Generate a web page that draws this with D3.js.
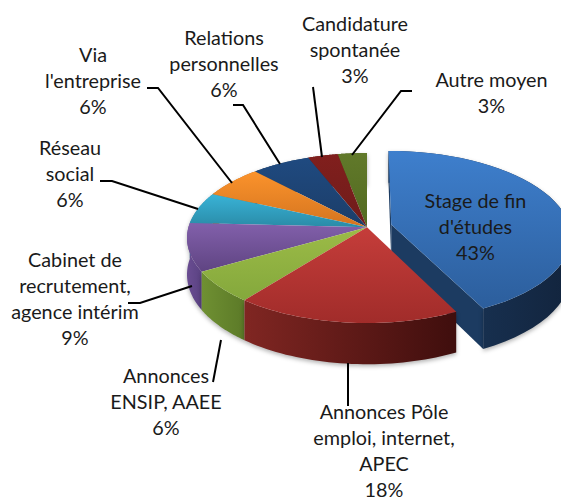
<!DOCTYPE html>
<html>
<head>
<meta charset="utf-8">
<script src="https://cdn.jsdelivr.net/npm/d3@7"></script>
<style>
  body { margin: 0; background: #fff; }
  svg { display: block; }
  text { font-family: Lato, sans-serif; font-size: 19.8px; fill: #1a1a1a; text-anchor: middle; }
</style>
</head>
<body>
<script>
// Chart values: shares, they round to the printed labels
const categories = ['Stage de fin d\'études', 'Annonces Pôle emploi, internet, APEC', 'Annonces ENSIP, AAEE',
  'Cabinet de recrutement, agence intérim', 'Réseau social', 'Via l\'entreprise',
  'Relations personnelles', 'Candidature spontanée', 'Autre moyen'];
const shares = [42.7, 17.9, 6.1, 9.1, 6.0, 6.2, 6.0, 3.05, 2.95];
const exploded = [0.14, 0, 0, 0, 0, 0, 0, 0, 0];

// Colours: top face light/dark, side face left/right
const topColors = [['#3e7fcd', '#2c5e9c'], ['#c53d3a', '#a12c2a'], ['#9cbb47', '#84a83c'], ['#8260ab', '#5f4482'],
  ['#39b3d7', '#2a8ba7'], ['#fb932c', '#d4741f'], ['#1f4a80', '#1c3d68'], ['#811f1d', '#6e1c1a'], ['#61792a', '#526a20']];
const sideColors = [['#1c3b61', '#12243d'], ['#802622', '#3f0e0d'], ['#6f9032', '#5c7a28'], ['#6a4d92', '#5a4282'],
  ['#2a8ba7', '#2a8ba7'], ['#c06a1c', '#c06a1c'], ['#173a60', '#173a60'], ['#5f1514', '#5f1514'], ['#4a5f1c', '#4a5f1c']];

// Label text lines and their layout, plus the leader line elbows
const labelLines = [['Stage de fin', 'd\'études', '43%'], ['Annonces Pôle', 'emploi, internet,', 'APEC', '18%'], ['Annonces', 'ENSIP, AAEE', '6%'],
  ['Cabinet de', 'recrutement,', 'agence intérim', '9%'], ['Réseau', 'social', '6%'], ['Via', 'l\'entreprise', '6%'],
  ['Relations', 'personnelles', '6%'], ['Candidature', 'spontanée', '3%'], ['Autre moyen', '3%']];
const labelPos = [[475.5, 208], [384, 418.5], [166, 383], [75, 267], [70, 155], [93, 62], [224, 45], [355, 31], [491.5, 87]];
const lineStep = 26;
const leaders = [null,
  [[348, 363], [348, 406]],
  [[221, 340], [213, 382]],
  [[192, 286], [140, 303], [128, 303]],
  [[198, 209], [112, 181], [100, 181]],
  [[232, 183], [158, 88], [147, 88]],
  [[280, 164], [243, 105], [233, 105]],
  [[322, 157], [313, 87]],
  [[352, 155], [401, 91], [412, 91]]];

// ==================== Set up ============================
const width = 561, height = 499;
const x = d3.scaleLinear().domain([-1, 1]).range([187, 547]),
      y = d3.scaleLinear().domain([-1, 1]).range([153, 323]);

// Perspective of the tilted disc: the near side comes out bigger
const tilt = -0.127, depth = 36;
const project = (angle, r, shift, mid, drop) => {
  const u = r * Math.sin(angle) + shift * Math.sin(mid),
        v = -r * Math.cos(angle) - shift * Math.cos(mid),
        w = 1 + tilt * v;
  return [x(u * Math.sqrt(1 - tilt * tilt) / w), y((v + tilt) / w) + (drop ? depth / w : 0)];
};

const pie = d3.pie().sort(null).value((d) => d);
const slices = pie(shares);
const line = d3.line();

const svg = d3.select('body').append('svg').attr('width', width).attr('height', height);
const defs = svg.append('defs');

const makeGradient = (id, colors, horizontal) => {
  const g = defs.append('linearGradient').attr('id', id)
    .attr('x1', 0).attr('y1', 0).attr('x2', horizontal ? 1 : 0).attr('y2', horizontal ? 0 : 1);
  g.append('stop').attr('offset', '0%').attr('stop-color', colors[0]);
  g.append('stop').attr('offset', '100%').attr('stop-color', colors[1]);
};
topColors.forEach((c, i) => makeGradient('top' + i, c, false));
sideColors.forEach((c, i) => makeGradient('side' + i, c, true));

const arcPoints = (d, shift, mid, drop) => {
  const n = 40;
  return d3.range(n + 1).map((k) =>
    project(d.startAngle + (d.endAngle - d.startAngle) * k / n, 1, shift, mid, drop));
};

// ==================== Draw ============================
// blue first, then back to front so the red one ends on top
const drawOrder = [0, 8, 7, 6, 5, 4, 3, 2, 1];
drawOrder.forEach((i) => {
  const d = slices[i], shift = exploded[i], mid = (d.startAngle + d.endAngle) / 2;
  const top = arcPoints(d, shift, mid, false),
        bottom = arcPoints(d, shift, mid, true);

  if (shift > 0) {
    // cut faces of the slice that is pulled out
    [d.startAngle, d.endAngle].forEach((a) => {
      svg.append('path').attr('fill', sideColors[i][0]).attr('d', line([
        project(0, 0, shift, mid, false), project(a, 1, shift, mid, false),
        project(a, 1, shift, mid, true), project(0, 0, shift, mid, true)]) + 'Z');
    });
  }
  svg.append('path')
    .attr('fill', `url(#side${i})`)
    .style('filter', 'drop-shadow(0 2px 2px rgba(0,0,0,.3))')
    .attr('d', line(top.concat(bottom.reverse())) + 'Z');
});
drawOrder.forEach((i) => {
  const d = slices[i], shift = exploded[i], mid = (d.startAngle + d.endAngle) / 2;
  svg.append('path')
    .attr('fill', `url(#top${i})`)
    .attr('d', line([project(0, 0, shift, mid, false)].concat(arcPoints(d, shift, mid, false))) + 'Z');
});

// Leader lines
leaders.forEach((pts) => {
  if (!pts) return;
  svg.append('path').attr('fill', 'none').attr('stroke', '#000').attr('stroke-width', 2).attr('d', line(pts));
});

// Labels
labelLines.forEach((lines, i) => {
  const t = svg.append('text').attr('x', labelPos[i][0]).attr('y', labelPos[i][1]);
  lines.forEach((s, k) => {
    t.append('tspan').attr('x', labelPos[i][0]).attr('dy', k ? lineStep : 0).text(s);
  });
});
</script>
</body>
</html>
